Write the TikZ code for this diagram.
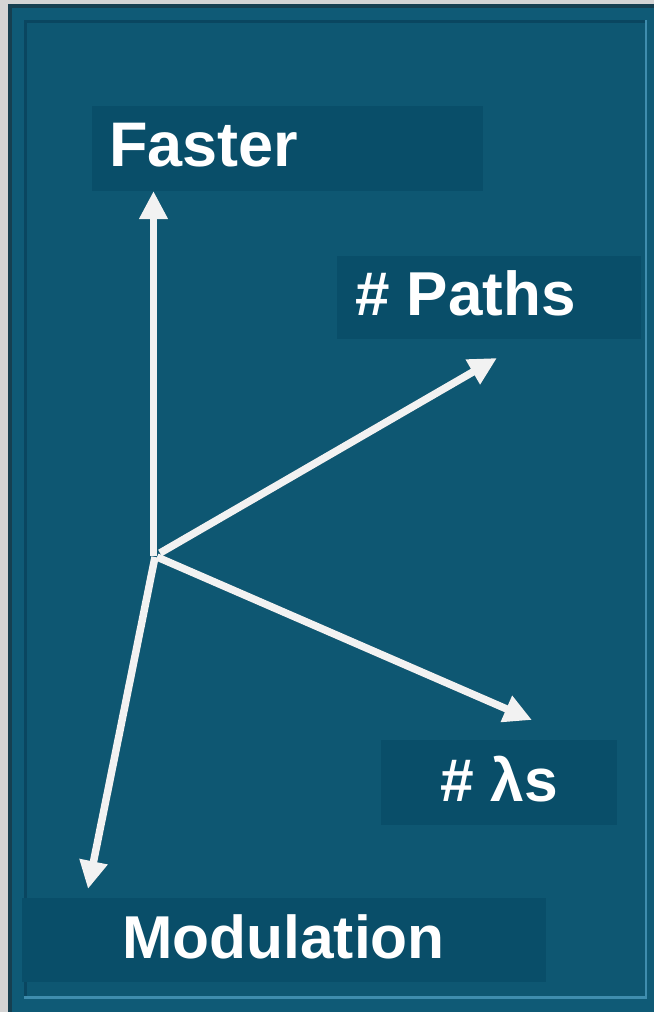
\documentclass[tikz,border=0pt]{standalone}
\usepackage{fontspec}
\setmainfont{Liberation Sans}
\usetikzlibrary{arrows.meta}
\definecolor{margin}{HTML}{D4D4D4}
\definecolor{frameedge}{HTML}{163F50}
\definecolor{frameteal}{HTML}{0F5A76}
\definecolor{field}{HTML}{0E5772}
\definecolor{fieldshadow}{HTML}{0A4660}
\definecolor{fieldlight}{HTML}{3F8DAE}
\definecolor{labelbox}{HTML}{094E69}
\definecolor{arrowgray}{HTML}{F2F2F2}
\tikzset{
  axisarrow/.style={draw=arrowgray, line width=7.5pt, -{Triangle[length=28pt,width=27pt]}},
  axisshadow/.style={draw=black, opacity=0.22, line width=7.5pt, -{Triangle[length=28pt,width=27pt]}},
  labelfill/.style={fill=labelbox, draw=none},
  labeltext/.style={text=white, inner sep=0pt, anchor=base west, font=\fontsize{60}{72}\selectfont\bfseries}
}
\begin{document}
\begin{tikzpicture}[x=1pt,y=-1pt]
\useasboundingbox (0,0) rectangle (654,1012);
% background and frame
\fill[margin] (0,0) rectangle (654,1012);
\fill[frameteal] (8,4) rectangle (654,1012);
\fill[frameedge] (8,4) rectangle (12,1012);
\fill[frameedge] (8,4) rectangle (654,8);
\fill[field] (24,20) rectangle (647,997);
\fill[fieldshadow] (24,20) rectangle (27,997);
\fill[fieldshadow] (24,20) rectangle (647,23);
\fill[fieldlight] (24,996) rectangle (647,999);
\fill[fieldlight] (645,20) rectangle (647,999);
% axis coordinates
\coordinate (oup) at (153.5,556);
\coordinate (opaths) at (160,553);
\coordinate (olambda) at (157,557);
\coordinate (omod) at (155,557);
\coordinate (tfaster) at (153.5,191);
\coordinate (tpaths) at (497,358);
\coordinate (tlambda) at (532,720);
\coordinate (tmod) at (88,889);
% shadows
\begin{scope}[shift={(2.5,2.5)}]
\draw[axisshadow] (oup) -- (tfaster);
\draw[axisshadow] (opaths) -- (tpaths);
\draw[axisshadow] (olambda) -- (tlambda);
\draw[axisshadow] (omod) -- (tmod);
\end{scope}
% arrows
\draw[axisarrow] (oup) -- (tfaster);
\draw[axisarrow] (opaths) -- (tpaths);
\draw[axisarrow] (olambda) -- (tlambda);
\draw[axisarrow] (omod) -- (tmod);
% label boxes
\fill[labelfill] (92,106) rectangle (483,191);
\fill[labelfill] (337,256) rectangle (641,339);
\fill[labelfill] (381,740) rectangle (617,825);
\fill[labelfill] (22,898) rectangle (546,982);
% labels
\node[labeltext, font=\fontsize{63}{75}\selectfont\bfseries] (faster) at (109,166) {Faster};
\node[labeltext, font=\fontsize{62}{74}\selectfont\bfseries] (paths) at (355,315) {\# Paths};
\node[labeltext, font=\fontsize{60.5}{72}\selectfont\bfseries] (lambdas) at (440,801) {\# λs};
\node[labeltext, font=\fontsize{60.5}{72}\selectfont\bfseries] (modulation) at (122,958) {Modulation};
\end{tikzpicture}
\end{document}
